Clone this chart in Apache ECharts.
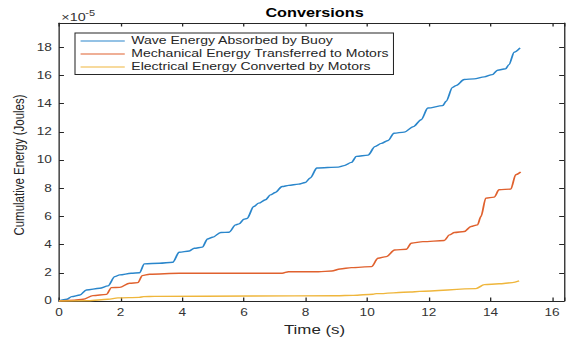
<!DOCTYPE html>
<html>
<head>
<meta charset="utf-8">
<script src="https://cdn.jsdelivr.net/npm/echarts@6/dist/echarts.min.js"></script>
<style>
  html, body { margin: 0; padding: 0; background: #fff; overflow: hidden; }
  #wrap { width: 568px; height: 337px; overflow: hidden; }
  #chart { width: 437px; height: 337px; transform: scaleX(1.2998); transform-origin: 0 0; }
</style>
</head>
<body>
<div id="wrap"><div id="chart"></div></div>
<script>
// ---- data ----
const chartTitle = 'Conversions';
const xAxisTitle = 'Time (s)';
const yAxisTitle = 'Cumulative Energy (Joules)';
const seriesNames = [
  'Wave Energy Absorbed by Buoy',
  'Mechanical Energy Transferred to Motors',
  'Electrical Energy Converted by Motors'
];
const xTickLabels = [0, 2, 4, 6, 8, 10, 12, 14, 16];
const yTickLabels = [0, 2, 4, 6, 8, 10, 12, 14, 16, 18];

const timeBuoy = [0, 0.25, 0.41, 0.68, 0.89, 1.32, 1.59, 1.81, 1.97, 2.34, 2.61, 2.77, 3.26, 3.69, 3.9, 4.23, 4.39, 4.65, 4.82, 4.98, 5.25, 5.52, 5.73, 5.84, 6.0, 6.1, 6.32, 6.48, 6.7, 6.86, 7.02, 7.24, 7.45, 7.77, 7.99, 8.15, 8.37, 9.06, 9.25, 9.49, 9.65, 10.03, 10.25, 10.46, 10.68, 10.87, 11.2, 11.5, 11.75, 11.97, 12.45, 12.56, 12.77, 12.88, 13.15, 13.47, 13.8, 14.06, 14.23, 14.49, 14.6, 14.77, 14.96];
const energyBuoy = [0, 0.12, 0.31, 0.43, 0.78, 0.9, 1.07, 1.73, 1.85, 1.97, 2.0, 2.63, 2.68, 2.75, 3.46, 3.55, 3.74, 3.82, 4.4, 4.52, 4.86, 4.88, 5.4, 5.47, 5.8, 5.85, 6.7, 6.94, 7.18, 7.53, 7.7, 8.12, 8.2, 8.29, 8.41, 8.72, 9.43, 9.5, 9.6, 9.83, 10.26, 10.35, 10.95, 11.18, 11.39, 11.9, 11.98, 12.37, 12.86, 13.69, 13.86, 14.17, 15.15, 15.28, 15.71, 15.76, 15.9, 16.06, 16.37, 16.47, 16.77, 17.65, 17.96];

const timeMech = [0, 0.5, 0.78, 1.1, 1.54, 1.7, 1.97, 2.29, 2.56, 2.7, 2.94, 3.9, 7.24, 7.45, 8.42, 8.85, 9.12, 9.49, 10.14, 10.35, 10.62, 10.89, 11.27, 11.43, 11.81, 12.5, 12.67, 12.83, 13.15, 13.37, 13.58, 13.69, 13.85, 14.12, 14.28, 14.66, 14.82, 14.98];
const energyMech = [0, 0.05, 0.12, 0.38, 0.47, 0.95, 0.97, 1.26, 1.3, 1.8, 1.9, 1.97, 1.97, 2.08, 2.08, 2.13, 2.27, 2.37, 2.44, 3.03, 3.15, 3.62, 3.67, 4.1, 4.21, 4.29, 4.69, 4.86, 4.93, 5.28, 5.4, 5.99, 7.3, 7.37, 7.89, 7.94, 8.96, 9.15];

const timeElec = [0, 0.95, 1.59, 1.91, 2.6, 2.75, 3.1, 6.3, 9.0, 9.55, 10.19, 10.3, 11.4, 11.7, 13.53, 13.8, 14.28, 14.71, 14.93];
const energyElec = [0, 0.02, 0.12, 0.22, 0.26, 0.31, 0.33, 0.35, 0.37, 0.4, 0.48, 0.52, 0.64, 0.68, 0.88, 1.16, 1.22, 1.3, 1.42];

const colors = ['#2a86cb', '#e0612e', '#efb63c'];

// ---- chart ----
const pairs = (xs, ys) => xs.map((x, i) => [x, ys[i]]);
const axisColor = '#262626';
const labelColor = '#333333';
const font = '"Liberation Sans", Arial, Helvetica, sans-serif';
const xLbl = v => (xTickLabels.some(t => Math.abs(t - v) < 1e-6) ? String(Math.round(v)) : '');
const yLbl = v => (yTickLabels.some(t => Math.abs(t - v) < 1e-6) ? String(Math.round(v)) : '');

const chart = echarts.init(document.getElementById('chart'), null, { renderer: 'svg' });
const common = { min: 0, interval: 2, splitLine: { show: false } };
const mkSeries = (i, xs, ys) => ({
  name: seriesNames[i], type: 'line', data: pairs(xs, ys),
  symbol: 'none', showSymbol: false, smooth: 0.3, smoothMonotone: 'x',
  lineStyle: { color: colors[i], width: 1.4 }, itemStyle: { color: colors[i] }
});
chart.setOption({
  animation: false,
  textStyle: { fontFamily: font },
  grid: { left: 45.4, right: 0.8, top: 23, bottom: 36, containLabel: false },
  xAxis: [
    Object.assign({}, common, {
      type: 'value', max: 16.39, position: 'bottom',
      axisLine: { show: true, onZero: false, lineStyle: { color: axisColor, width: 1 } },
      axisTick: { show: true, inside: true, length: 3.5, lineStyle: { color: axisColor } },
      axisLabel: { formatter: xLbl, color: labelColor, fontSize: 10.5, margin: 6, fontFamily: font }
    }),
    Object.assign({}, common, {
      type: 'value', max: 16.39, position: 'top',
      axisLine: { show: true, onZero: false, lineStyle: { color: axisColor, width: 1 } },
      axisTick: { show: true, inside: true, length: 3.5, lineStyle: { color: axisColor } },
      axisLabel: { show: false }
    })
  ],
  yAxis: [
    Object.assign({}, common, {
      type: 'value', max: 19.72, position: 'left',
      axisLine: { show: true, onZero: false, lineStyle: { color: axisColor, width: 1 } },
      axisTick: { show: true, inside: true, length: 3.8, lineStyle: { color: axisColor } },
      axisLabel: { formatter: yLbl, color: labelColor, fontSize: 10.5, margin: 5.5, fontFamily: font }
    }),
    Object.assign({}, common, {
      type: 'value', max: 19.72, position: 'right',
      axisLine: { show: true, onZero: false, lineStyle: { color: axisColor, width: 1 } },
      axisTick: { show: true, inside: true, length: 3.8, lineStyle: { color: axisColor } },
      axisLabel: { show: false }
    })
  ],
  legend: {
    orient: 'vertical', left: 57.7, top: 33,
    padding: [1.5, 3.5, 1, 3.8], itemGap: 0,
    itemWidth: 34, itemHeight: 13,
    itemStyle: { opacity: 0 },
    lineStyle: { width: 1 },
    backgroundColor: '#ffffff', borderColor: axisColor, borderWidth: 0.8,
    textStyle: { fontSize: 10.8, color: '#262626', lineHeight: 13, fontFamily: font },
    data: seriesNames
  },
  graphic: [
    { type: 'text', x: 242, y: 6.5, style: { text: chartTitle, font: 'bold 12.5px ' + font, fill: '#000', textAlign: 'center', textVerticalAlign: 'top' } },
    { type: 'text', x: 242, y: 329, style: { text: xAxisTitle, font: '13px ' + font, fill: '#262626', textAlign: 'center', textVerticalAlign: 'middle' } },
    { type: 'text', x: 14.6, y: 165, rotation: Math.PI / 2, style: { text: yAxisTitle, font: '11.5px ' + font, fill: '#262626', textAlign: 'center', textVerticalAlign: 'middle' } },
    { type: 'text', x: 47.2, y: 12, style: { text: '×10', font: '11px ' + font, fill: '#333', textAlign: 'left', textVerticalAlign: 'top' } },
    { type: 'text', x: 65.6, y: 8.5, style: { text: '-5', font: '8.5px ' + font, fill: '#333', textAlign: 'left', textVerticalAlign: 'top' } }
  ],
  series: [
    mkSeries(0, timeBuoy, energyBuoy),
    mkSeries(1, timeMech, energyMech),
    mkSeries(2, timeElec, energyElec)
  ]
});
</script>
</body>
</html>
